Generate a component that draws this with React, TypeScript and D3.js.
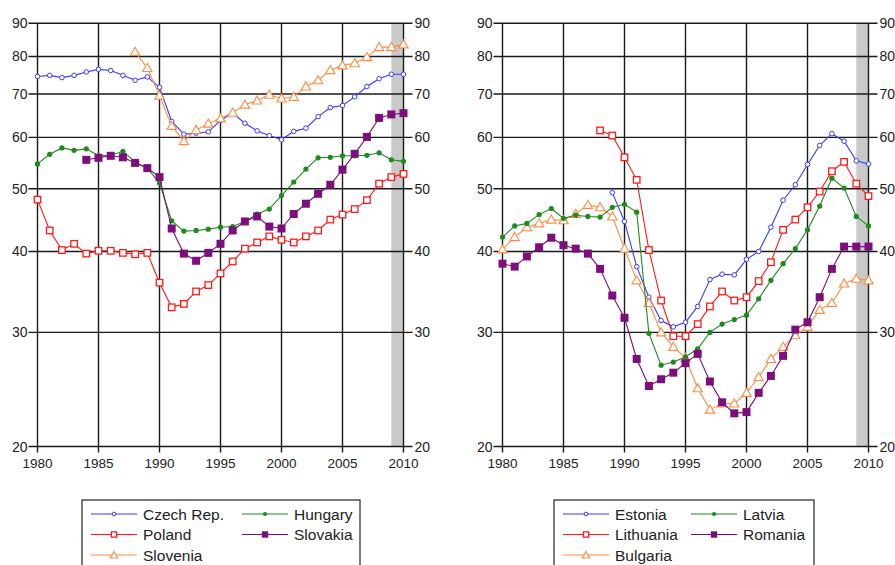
import React, { useEffect, useRef } from "react";
import * as d3 from "d3";

// values, one value per year
const czechStart = 1980;
const czechRep = [74.5, 74.8, 74.2, 74.8, 75.7, 76.4, 76.1, 74.8, 73.5, 74.4, 71.7, 63.5, 60.7, 60.9, 61.2, 63.7, 65.4, 63.1, 61.4, 60.4, 59.5, 61.3, 62.0, 64.6, 66.7, 67.2, 69.3, 71.9, 73.9, 75.1, 75.1];
const polandStart = 1980;
const poland = [48.1, 43.1, 40.2, 41.1, 39.7, 40.1, 40.1, 39.8, 39.6, 39.8, 35.8, 32.8, 33.2, 34.7, 35.5, 37.0, 38.6, 40.4, 41.3, 42.2, 41.7, 41.3, 42.2, 43.1, 44.8, 45.6, 46.5, 48.0, 50.9, 52.1, 52.7];
const sloveniaStart = 1988;
const slovenia = [81.3, 76.8, 69.6, 62.5, 59.2, 61.6, 63.0, 64.2, 65.5, 67.4, 68.4, 69.8, 68.9, 69.3, 71.9, 73.5, 76.2, 77.5, 78.1, 79.8, 82.7, 82.7, 83.5];
const hungaryStart = 1980;
const hungary = [54.6, 56.5, 57.8, 57.3, 57.6, 56.2, 56.3, 57.1, 55.0, 53.8, 51.0, 44.6, 43.0, 43.1, 43.3, 43.6, 43.7, 44.5, 45.7, 46.5, 48.8, 51.2, 53.6, 55.8, 55.9, 56.2, 56.2, 56.3, 56.8, 55.4, 55.1];
const slovakiaStart = 1984;
const slovakia = [55.4, 55.8, 56.2, 55.9, 54.8, 53.8, 52.1, 43.4, 39.7, 38.7, 39.8, 41.1, 43.1, 44.5, 45.3, 43.7, 43.4, 45.7, 47.4, 49.1, 50.7, 53.5, 56.6, 60.1, 64.3, 65.1, 65.4];

const estoniaStart = 1989;
const estonia = [49.3, 44.5, 37.9, 34.0, 31.3, 30.6, 31.1, 32.9, 36.2, 36.9, 36.8, 38.9, 40.0, 43.6, 48.0, 50.7, 54.5, 58.3, 60.8, 59.2, 55.2, 54.6];
const lithuaniaStart = 1988;
const lithuania = [61.5, 60.4, 55.9, 51.6, 40.2, 33.6, 29.6, 29.6, 30.9, 32.9, 34.7, 33.6, 34.0, 36.0, 38.5, 43.2, 44.8, 46.8, 49.5, 53.2, 55.0, 50.9, 48.7];
const latviaStart = 1980;
const latvia = [42.1, 43.8, 44.2, 45.6, 46.6, 45.0, 45.5, 45.3, 45.2, 46.8, 47.3, 46.0, 29.9, 26.7, 27.0, 27.5, 28.3, 30.0, 30.9, 31.4, 31.9, 33.8, 36.1, 38.3, 40.4, 43.2, 47.0, 51.9, 50.1, 45.3, 43.8];
const bulgariaStart = 1980;
const bulgaria = [40.3, 42.1, 43.6, 44.2, 44.8, 44.7, 45.7, 47.2, 46.8, 45.3, 40.4, 36.1, 33.3, 30.0, 28.5, 27.4, 24.6, 22.8, 23.3, 23.3, 24.2, 25.6, 27.3, 28.5, 29.7, 30.6, 32.5, 33.3, 35.7, 36.3, 36.1];
const romaniaStart = 1980;
const romania = [38.3, 37.9, 39.3, 40.6, 42.0, 40.9, 40.4, 39.7, 37.6, 34.2, 31.6, 27.3, 24.8, 25.4, 26.0, 26.9, 27.8, 25.2, 23.4, 22.5, 22.6, 24.2, 25.7, 27.6, 30.3, 31.1, 34.0, 37.6, 40.7, 40.7, 40.7];

const yTicks = [20, 30, 40, 50, 60, 70, 80, 90];
const xTicks = [1980, 1985, 1990, 1995, 2000, 2005, 2010];
const shadeFrom = 2009;
const shadeTo = 2010;

const BLUE = "#3a3aff";
const RED = "#ff1a1a";
const ORANGE = "#ff8c42";
const GREEN = "#1f8a1f";
const PURPLE = "#7d0f7d";

const leftSeries = [
  { name: "Czech Rep.", start: czechStart, values: czechRep, color: BLUE, marker: "circleOpen", col: 0, row: 0 },
  { name: "Poland", start: polandStart, values: poland, color: RED, marker: "squareOpen", col: 0, row: 1 },
  { name: "Slovenia", start: sloveniaStart, values: slovenia, color: ORANGE, marker: "triangleOpen", col: 0, row: 2 },
  { name: "Hungary", start: hungaryStart, values: hungary, color: GREEN, marker: "circleFilled", col: 1, row: 0 },
  { name: "Slovakia", start: slovakiaStart, values: slovakia, color: PURPLE, marker: "squareFilled", col: 1, row: 1 },
];

const rightSeries = [
  { name: "Estonia", start: estoniaStart, values: estonia, color: BLUE, marker: "circleOpen", col: 0, row: 0 },
  { name: "Lithuania", start: lithuaniaStart, values: lithuania, color: RED, marker: "squareOpen", col: 0, row: 1 },
  { name: "Bulgaria", start: bulgariaStart, values: bulgaria, color: ORANGE, marker: "triangleOpen", col: 0, row: 2 },
  { name: "Latvia", start: latviaStart, values: latvia, color: GREEN, marker: "circleFilled", col: 1, row: 0 },
  { name: "Romania", start: romaniaStart, values: romania, color: PURPLE, marker: "squareFilled", col: 1, row: 1 },
];

const FONT = "'Liberation Sans', Arial, sans-serif";

const drawMarker = (g, type, color, cx, cy, small) => {
  const k = small ? 0.8 : 1;
  if (type === "circleOpen") {
    g.append("circle").attr("cx", cx).attr("cy", cy).attr("r", 2.3 * k)
      .attr("fill", "#fff").attr("stroke", color).attr("stroke-width", 1);
  } else if (type === "circleFilled") {
    g.append("circle").attr("cx", cx).attr("cy", cy).attr("r", 2.6 * k).attr("fill", color);
  } else if (type === "squareOpen") {
    const s = 6.5 * k;
    g.append("rect").attr("x", cx - s / 2).attr("y", cy - s / 2).attr("width", s).attr("height", s)
      .attr("fill", "#fff").attr("stroke", color).attr("stroke-width", 1.3);
  } else if (type === "squareFilled") {
    const s = 8 * k;
    g.append("rect").attr("x", cx - s / 2).attr("y", cy - s / 2).attr("width", s).attr("height", s)
      .attr("fill", color);
  } else if (type === "triangleOpen") {
    g.append("path")
      .attr("d", d3.symbol(d3.symbolTriangle, 38 * k * k)())
      .attr("transform", `translate(${cx},${cy + 0.8})`)
      .attr("fill", "#fff").attr("stroke", color).attr("stroke-width", 1.1);
  }
};

const drawPanel = (svg, series, left, right, legendBox) => {
  const top = 23.3;
  const bottom = 446.5;
  const x = d3.scaleLinear().domain([1980, 2010]).range([left, right]);
  const y = d3.scaleLog().domain([20, 90]).range([bottom, top]);

  const g = svg.append("g");

  // shaded band at the end of the sample
  g.append("rect")
    .attr("x", x(shadeFrom)).attr("y", top)
    .attr("width", x(shadeTo) - x(shadeFrom)).attr("height", bottom - top)
    .attr("fill", "#c9c9c9");

  // grid
  g.selectAll(".hgrid").data(yTicks).enter().append("line")
    .attr("x1", left - 9).attr("x2", right + 9)
    .attr("y1", (d) => y(d)).attr("y2", (d) => y(d))
    .attr("stroke", "#1a1a1a").attr("stroke-width", 1.4);
  g.selectAll(".vgrid").data(xTicks).enter().append("line")
    .attr("x1", (d) => x(d)).attr("x2", (d) => x(d))
    .attr("y1", top).attr("y2", bottom + 6)
    .attr("stroke", "#1a1a1a").attr("stroke-width", 1.4);

  // y labels on both sides
  g.selectAll(".ylabL").data(yTicks).enter().append("text")
    .attr("x", left - 10).attr("y", (d) => y(d) + 5)
    .attr("text-anchor", "end").attr("font-family", FONT).attr("font-size", 14)
    .attr("fill", "#222").text((d) => d);
  g.selectAll(".ylabR").data(yTicks).enter().append("text")
    .attr("x", right + 11).attr("y", (d) => y(d) + 5)
    .attr("text-anchor", "start").attr("font-family", FONT).attr("font-size", 14)
    .attr("fill", "#222").text((d) => d);

  // x labels
  g.selectAll(".xlab").data(xTicks).enter().append("text")
    .attr("x", (d) => x(d)).attr("y", bottom + 21)
    .attr("text-anchor", "middle").attr("font-family", FONT).attr("font-size", 13.5)
    .attr("fill", "#222").text((d) => d);

  // lines and markers
  const line = d3.line().x((d) => x(d[0])).y((d) => y(d[1]));
  series.forEach((s) => {
    const pts = s.values.map((v, i) => [s.start + i, v]);
    g.append("path").datum(pts).attr("d", line)
      .attr("fill", "none").attr("stroke", s.color).attr("stroke-width", 1.1);
    const mg = g.append("g");
    pts.forEach((p) => drawMarker(mg, s.marker, s.color, x(p[0]), y(p[1]), false));
  });

  // legend
  const lg = svg.append("g");
  lg.append("rect")
    .attr("x", legendBox.x).attr("y", 500)
    .attr("width", legendBox.w).attr("height", 90)
    .attr("fill", "#fff").attr("stroke", "#333").attr("stroke-width", 1.3);
  series.forEach((s) => {
    const lx = legendBox.x + 9 + s.col * legendBox.colW;
    const ly = 514 + s.row * 20.5;
    lg.append("line").attr("x1", lx).attr("x2", lx + 46).attr("y1", ly).attr("y2", ly)
      .attr("stroke", s.color).attr("stroke-width", 1.2);
    drawMarker(lg, s.marker, s.color, lx + 23, ly, true);
    lg.append("text").attr("x", lx + 52).attr("y", ly + 5.5)
      .attr("font-family", FONT).attr("font-size", 15.5).attr("fill", "#222")
      .text(s.name);
  });
};

const App = () => {
  const ref = useRef(null);

  useEffect(() => {
    const svg = d3.select(ref.current);
    svg.selectAll("*").remove();
    drawPanel(svg, leftSeries, 37.5, 403.5, { x: 82, w: 278, colW: 151 });
    drawPanel(svg, rightSeries, 502.5, 868.5, { x: 554, w: 260, colW: 128 });
  }, []);

  return (
    <svg
      ref={ref}
      width={895}
      height={565}
      style={{ position: "absolute", left: 0, top: 0, background: "#fff" }}
    />
  );
};

export default App;
